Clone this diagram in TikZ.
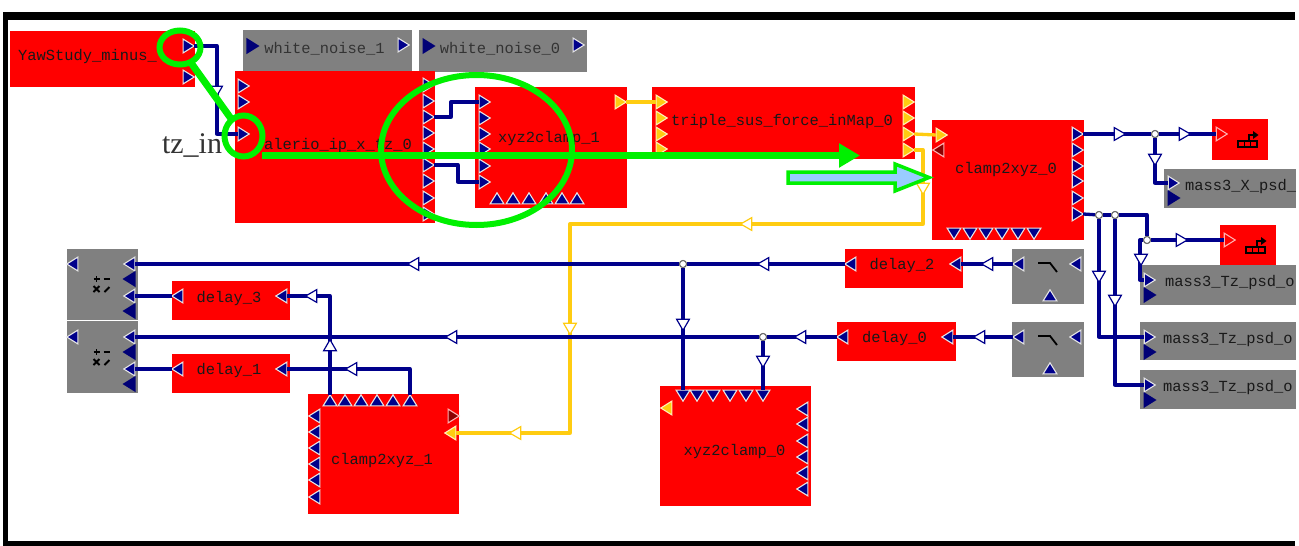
\documentclass[tikz,border=0pt]{standalone}
\usepackage{fontspec}
\usepackage{xcolor}
\usepackage{tikz}
\usetikzlibrary{shapes.geometric,arrows.meta}
\setmainfont{Liberation Serif}
\newfontfamily\blockfont{Liberation Mono}
\definecolor{blockred}{HTML}{FF0000}
\definecolor{blockgray}{HTML}{808080}
\definecolor{wirenavy}{HTML}{00008B}
\definecolor{wireyellow}{HTML}{FFCC11}
\definecolor{markgreen}{HTML}{00F000}
\definecolor{markblue}{HTML}{99CCFF}
\newcommand{\block}[6]{\node[#2, minimum width={#5-#3}, minimum height={#6-#4}] (#1) at ({(#3+#5)/2},{(#4+#6)/2}) {};}
\newcommand{\mathicon}[2]{
    \draw[iconline] (#1-3,#2) -- (#1+3,#2) (#1,#2-3) -- (#1,#2+3) (#1+7,#2) -- (#1+13,#2);
    \draw[iconline] (#1-3,#2+7) -- (#1+3,#2+13) (#1-3,#2+13) -- (#1+3,#2+7) (#1+8,#2+13) -- (#1+13,#2+8);
}
\newcommand{\scopeicon}[2]{
    \draw[iconline, line width=1.6pt] (#1,#2) rectangle (#1+19,#2+6) (#1+6.3,#2) -- (#1+6.3,#2+6) (#1+12.6,#2) -- (#1+12.6,#2+6);
    \draw[iconline, line width=2.4pt] (#1+11,#2) -- (#1+11,#2-6) -- (#1+16,#2-6);
    \fill[black] (#1+15,#2-10) -- (#1+20.5,#2-6) -- (#1+15,#2-2) -- cycle;
}
\newcommand{\switchicon}[2]{\draw[iconline, line width=1.8pt] (#1,#2) -- (#1+12,#2) -- (#1+19,#2+9);}
\tikzset{
    redblock/.style={rectangle, fill=blockred, inner sep=0pt, outer sep=0pt},
    grayblock/.style={rectangle, fill=blockgray, inner sep=0pt, outer sep=0pt},
    blocklabel/.style={font=\blockfont\fontsize{15.4}{16}\selectfont, inner sep=0pt, text=black!90, yshift=-1.5pt},
    port/.style={isosceles triangle, isosceles triangle apex angle=64, inner sep=0pt, outer sep=0pt,
        minimum width=11pt, minimum height=11pt, draw=white!80!blockgray, line width=1.1pt, fill=wirenavy},
    portR/.style={port, shape border rotate=0},
    portL/.style={port, shape border rotate=180},
    portU/.style={port, shape border rotate=90},
    portD/.style={port, shape border rotate=270},
    yellowport/.style={fill=wireyellow, draw=white!70!wireyellow},
    darkport/.style={draw=none, fill=wirenavy!85!black, minimum width=13pt, minimum height=13pt},
    wire/.style={draw=wirenavy, line width=3.3pt, line join=round},
    yellowwire/.style={draw=wireyellow, line width=3.3pt, line join=round},
    flow/.style={isosceles triangle, isosceles triangle apex angle=60, inner sep=0pt, outer sep=0pt,
        minimum width=11pt, minimum height=11pt, fill=white, draw=wirenavy, line width=1.2pt},
    flowR/.style={flow, shape border rotate=0},
    flowL/.style={flow, shape border rotate=180},
    flowD/.style={flow, shape border rotate=270},
    flowU/.style={flow, shape border rotate=90},
    yellowflow/.style={draw=wireyellow},
    junction/.style={circle, fill=white, draw=black!60, line width=1pt, inner sep=0pt, minimum size=7pt},
    iconline/.style={draw=black, line width=1.8pt},
    markring/.style={ellipse, draw=markgreen, line width=6pt, inner sep=0pt, outer sep=0pt},
    markline/.style={draw=markgreen, line width=7pt}
}

\begin{document}
\begin{tikzpicture}[x=1pt, y=-1pt]
    \useasboundingbox (0,0) rectangle (1299,546);

    % Frame, open on the right
    \fill[black] (3,12) rectangle (1295,20);
    \fill[black] (3,12) rectangle (8,546);
    \fill[black] (3,541) rectangle (1295,546);

    % Blocks
    \block{yaw}{redblock}{10}{31}{195}{87}
    \block{noise_a}{grayblock}{243}{30}{412}{72}
    \block{noise_b}{grayblock}{419}{30}{587}{72}
    \block{valerio}{redblock}{235}{71}{435}{223}
    \block{xyz_a}{redblock}{475}{87}{627}{208}
    \block{triple}{redblock}{652}{87}{915}{159}
    \block{clamp_a}{redblock}{932}{120}{1084}{240}
    \block{scope_a}{redblock}{1212}{119}{1268}{160}
    \block{scope_b}{redblock}{1220}{225}{1276}{265}
    \block{psd_x}{grayblock}{1164}{169}{1296}{208}
    \block{psd_a}{grayblock}{1140}{265}{1296}{305}
    \block{psd_b}{grayblock}{1140}{322}{1296}{360}
    \block{psd_c}{grayblock}{1140}{370}{1296}{409}
    \block{switch_a}{grayblock}{1012}{249}{1084}{304}
    \block{switch_b}{grayblock}{1012}{322}{1084}{377}
    \block{delay_c}{redblock}{845}{249}{963}{288}
    \block{delay_a}{redblock}{837}{322}{956}{361}
    \block{delay_d}{redblock}{172}{281}{290}{320}
    \block{delay_b}{redblock}{172}{354}{290}{393}
    \block{math_a}{grayblock}{67}{249}{138}{320}
    \block{math_b}{grayblock}{67}{321}{138}{393}
    \block{xyz_b}{redblock}{660}{386}{811}{506}
    \block{clamp_b}{redblock}{308}{394}{459}{514}

    % Labels
    \node[blocklabel] (yaw_txt) at (87.5,55) {YawStudy\_minus\_};
    \node[blocklabel, text=black!80] (noise_a_txt) at (324.5,47) {white\_noise\_1};
    \node[blocklabel, text=black!80] (noise_b_txt) at (500,47) {white\_noise\_0};
    \node[blocklabel] (valerio_txt) at (338,144) {alerio\_ip\_x\_tz\_0};
    \node[blocklabel] (xyz_a_txt) at (549,137) {xyz2clamp\_1};
    \node[blocklabel] (triple_txt) at (782,120) {triple\_sus\_force\_inMap\_0};
    \node[blocklabel] (clamp_a_txt) at (1006,168) {clamp2xyz\_0};
    \node[blocklabel] (clamp_b_txt) at (382,459) {clamp2xyz\_1};
    \node[blocklabel] (xyz_b_txt) at (734.5,450) {xyz2clamp\_0};
    \node[blocklabel] (delay_c_txt) at (902,264) {delay\_2};
    \node[blocklabel] (delay_a_txt) at (894.5,337) {delay\_0};
    \node[blocklabel] (delay_d_txt) at (229,297) {delay\_3};
    \node[blocklabel] (delay_b_txt) at (229,369) {delay\_1};
    \node[blocklabel, anchor=west] (psd_x_txt) at (1185,185) {mass3\_X\_psd\_};
    \node[blocklabel, anchor=west] (psd_a_txt) at (1165,281) {mass3\_Tz\_psd\_o};
    \node[blocklabel, anchor=west] (psd_b_txt) at (1163,338) {mass3\_Tz\_psd\_o};
    \node[blocklabel, anchor=west] (psd_c_txt) at (1163,386) {mass3\_Tz\_psd\_o};

    % Icons
    \mathicon{96.5}{279}
    \mathicon{96.5}{352}
    \switchicon{1038}{263}
    \switchicon{1038}{336}
    \scopeicon{1238}{141}
    \scopeicon{1246}{247}

    % Ports
    \node[portR] (yaw_o1) at (187,46) {};
    \node[portR] (yaw_o2) at (187,77) {};
    \node[portR, darkport] (noise_a_i) at (251,46) {};
    \node[portR] (noise_a_o) at (402,45) {};
    \node[portR, darkport] (noise_b_i) at (427,46) {};
    \node[portR] (noise_b_o) at (577,45) {};
    \foreach \y [count=\i] in {86,102,134}
        \node[portR] (val_l\i) at (242,\y) {};
    \foreach \y [count=\i] in {85,101,117,133,149,165,181,198,214}
        \node[portR] (val_r\i) at (427,\y) {};
    \foreach \y [count=\i] in {102,118,134,149,166,182}
        \node[portR] (xyz_a_l\i) at (483,\y) {};
    \foreach \x [count=\i] in {497,513,529,546,562,577}
        \node[portU] (xyz_a_b\i) at (\x,200) {};
    \node[portR, yellowport] (xyz_a_o) at (619,102) {};
    \foreach \y [count=\i] in {102,118,134,149}
        \node[portR, yellowport] (triple_l\i) at (660,\y) {};
    \foreach \y [count=\i] in {102,118,134,150}
        \node[portR, yellowport] (triple_r\i) at (907,\y) {};
    \node[portR, yellowport] (clamp_a_y) at (940,135) {};
    \node[portL, fill=blockred!55!black, draw=white!70!blockred] (clamp_a_m) at (940,150) {};
    \foreach \y [count=\i] in {134,150,166,181,198,214}
        \node[portR] (clamp_a_r\i) at (1076,\y) {};
    \foreach \x [count=\i] in {954,970,986,1002,1018,1034}
        \node[portD] (clamp_a_b\i) at (\x,232) {};
    \node[portR, fill=blockred, draw=white!70!blockred] (scope_a_i) at (1220,134) {};
    \node[portR, fill=blockred, draw=white!70!blockred] (scope_b_i) at (1228,240) {};
    \foreach \n/\x/\y in {psd_x/1172/183, psd_a/1148/280, psd_b/1148/337, psd_c/1148/385}{
        \node[portR] (\n_i) at (\x,\y) {};
        \node[portR, darkport] (\n_d) at (\x,\y+15) {};
    }
    \foreach \n/\y in {switch_a/264, switch_b/337}{
        \node[portL] (\n_l) at (1020,\y) {};
        \node[portL] (\n_r) at (1077,\y) {};
        \node[portU] (\n_u) at (1050,\y+33) {};
    }
    \foreach \n/\xa/\xb/\y in {delay_c/852/957/264, delay_a/844/949/337, delay_d/179/283/296, delay_b/179/283/369}{
        \node[portL] (\n_l) at (\xa,\y) {};
        \node[portL] (\n_r) at (\xb,\y) {};
    }
    \foreach \n/\y in {math_a/264, math_b/337}{
        \node[portL] (\n_o) at (74,\y) {};
        \node[portL] (\n_i1) at (131,\y) {};
        \node[portL, darkport] (\n_d1) at (131,\y+15) {};
        \node[portL] (\n_i2) at (131,\y+32) {};
        \node[portL, darkport] (\n_d2) at (131,\y+47) {};
    }
    \foreach \x [count=\i] in {683,697,713,730,746,763}
        \node[portD] (xyz_b_t\i) at (\x,394) {};
    \node[portL, yellowport] (xyz_b_y) at (668,408) {};
    \foreach \y [count=\i] in {409,424,441,457,473,489}
        \node[portL] (xyz_b_r\i) at (804,\y) {};
    \foreach \x [count=\i] in {330,345,361,377,393,410}
        \node[portU] (clamp_b_t\i) at (\x,402) {};
    \foreach \y [count=\i] in {416,432,448,464,480,497}
        \node[portL] (clamp_b_l\i) at (316,\y) {};
    \node[portR, fill=blockred!55!black, draw=white!70!blockred] (clamp_b_m) at (452,416) {};
    \node[portL, yellowport] (clamp_b_y) at (452,433) {};

    % Yellow wires
    \draw[yellowwire] (xyz_a_o.east) -- (triple_l1.west);
    \draw[yellowwire] (triple_r3.east) -- (clamp_a_y.west);
    \draw[yellowwire] (triple_r4.east) -- (923,150) -- (923,224) -- (570,224) -- (570,433) -- (clamp_b_y.east);
    \node[flowD, yellowflow] (fy1) at (923,187) {};
    \node[flowL, yellowflow] (fy2) at (748,224) {};
    \node[flowD, yellowflow] (fy3) at (570,327) {};
    \node[flowL, yellowflow] (fy4) at (517,433) {};

    % Junctions
    \node[junction] (j_x) at (1155,134) {};
    \node[junction] (j_a) at (1099,215) {};
    \node[junction] (j_b) at (1115,215) {};
    \node[junction] (j_c) at (1147,240) {};
    \node[junction] (j_d) at (683,264) {};
    \node[junction] (j_e) at (763,337) {};

    % Navy wires
    \draw[wire] (yaw_o1.east) -- (217,46) -- (217,134) -- (val_l3.west);
    \draw[wire] (val_r3.east) -- (451,117) -- (451,102) -- (xyz_a_l1.west);
    \draw[wire] (val_r6.east) -- (458,165) -- (458,182) -- (xyz_a_l6.west);
    \draw[wire] (clamp_a_r1.east) -- (j_x);
    \draw[wire] (j_x) -- (scope_a_i.west);
    \draw[wire] (j_x) |- (psd_x_i.west);
    \draw[wire] (clamp_a_r6.east) -- (j_a);
    \draw[wire] (j_a) -- (j_b);
    \draw[wire] (j_b) -- (1147,215) -- (j_c);
    \draw[wire] (j_c) -- (scope_b_i.west);
    \draw[wire] (j_c) -- (1140,240) -- (1140,280) -- (psd_a_i.west);
    \draw[wire] (j_a) |- (psd_b_i.west);
    \draw[wire] (j_b) |- (psd_c_i.west);
    \draw[wire] (switch_a_l.west) -- (delay_c_r.east);
    \draw[wire] (switch_b_l.west) -- (delay_a_r.east);
    \draw[wire] (delay_c_l.west) -- (j_d);
    \draw[wire] (j_d) -- (math_a_i1.east);
    \draw[wire] (j_d) -- (xyz_b_t1.north);
    \draw[wire] (delay_a_l.west) -- (j_e);
    \draw[wire] (j_e) -- (math_b_i1.east);
    \draw[wire] (j_e) -- (xyz_b_t6.north);
    \draw[wire] (delay_d_l.west) -- (math_a_i2.east);
    \draw[wire] (delay_b_l.west) -- (math_b_i2.east);
    \draw[wire] (clamp_b_t1.north) |- (delay_d_r.east);
    \draw[wire] (clamp_b_t6.north) |- (delay_b_r.east);
    \node[junction] (j_x2) at (j_x) {};
    \node[junction] (j_a2) at (j_a) {};
    \node[junction] (j_b2) at (j_b) {};
    \node[junction] (j_c2) at (j_c) {};
    \node[junction] (j_d2) at (j_d) {};
    \node[junction] (j_e2) at (j_e) {};

    % Open arrowheads along the wires
    \node[flowD] (f1) at (216,90) {};
    \node[flowR] (f2) at (1118,134) {};
    \node[flowR] (f3) at (1183,134) {};
    \node[flowD] (f4) at (1155,158) {};
    \node[flowR] (f5) at (1180,240) {};
    \node[flowD] (f6) at (1141,258) {};
    \node[flowD] (f7) at (1099,275) {};
    \node[flowD] (f8) at (1115,299) {};
    \node[flowL] (f9) at (989,264) {};
    \node[flowL] (f10) at (981,337) {};
    \node[flowL] (f11) at (765,264) {};
    \node[flowL] (f12) at (802,337) {};
    \node[flowL] (f13) at (415,264) {};
    \node[flowL] (f14) at (453,337) {};
    \node[flowD] (f15) at (683,323) {};
    \node[flowD] (f16) at (763,360) {};
    \node[flowU] (f17) at (330,347) {};
    \node[flowL] (f18) at (313,296) {};
    \node[flowL] (f19) at (353,369) {};

    % Hand-drawn marks
    \node[font=\fontsize{30}{32}\selectfont, text=black!80, inner sep=0pt] (tz_in) at (192,146) {tz\_in};
    \node[markring, minimum width=41pt, minimum height=34pt] (ring_a) at (180,47.5) {};
    \node[markring, minimum width=38pt, minimum height=41pt] (ring_b) at (243.5,136) {};
    \node[markring, minimum width=191pt, minimum height=150pt] (ring_c) at (476.5,150) {};
    \draw[markline] (ring_a) -- (ring_b);
    \coordinate (mark_a) at (262,155.5);
    \coordinate (mark_b) at (860,155.5);
    \draw[markline, -{Triangle[length=21pt, width=23pt]}] (mark_a) -- (mark_b);
    \filldraw[draw=markgreen, fill=markblue, line width=3.5pt, miter limit=8]
        (788,172) -- (895,172) -- (895,164) -- (929,177.5) -- (895,191) -- (895,183) -- (788,183) -- cycle;
\end{tikzpicture}
\end{document}
